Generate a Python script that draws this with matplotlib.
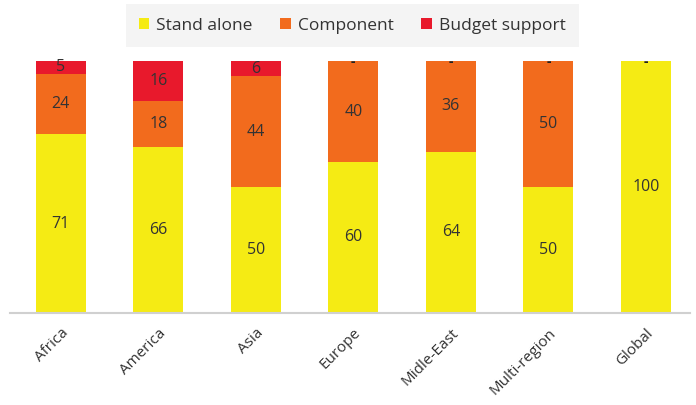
import numpy as np
import matplotlib.pyplot as plt

plt.rcParams['font.family'] = ['Open Sans', 'DejaVu Sans']

regions = ['Africa', 'America', 'Asia', 'Europe', 'Midle-East', 'Multi-region', 'Global']
stand_alone = [71, 66, 50, 60, 64, 50, 100]
component = [24, 18, 44, 40, 36, 50, 0]
budget = [5, 16, 6, 0, 0, 0, 0]

series = [('Stand alone', stand_alone, '#F5EB14'),
          ('Component', component, '#F26B1D'),
          ('Budget support', budget, '#E8192C')]

fig = plt.figure(figsize=(6.96, 4.05), dpi=100)
ax = fig.add_axes([0.014, 0.227, 0.977, 0.622])

x = np.arange(len(regions))
bottom = np.zeros(len(regions))
for name, vals, col in series:
    vals = np.array(vals, dtype=float)
    ax.bar(x, vals, 0.51, bottom=bottom, color=col, label=name)
    for xi, b, v in zip(x, bottom, vals):
        if v > 0:
            ax.text(xi, b + v / 2, str(int(v)), ha='center', va='center',
                    fontsize=11.5, color='#333333')
    bottom += vals

# zero-valued budget labels sit at the top edge
for xi, v, top in zip(x, budget, bottom):
    if v == 0:
        ax.text(xi, top - 0.2, '-', ha='center', va='center', fontsize=10,
                fontweight='bold', color='#222222')

ax.set_xlim(-0.523, 6.45)
ax.set_ylim(0, 100)
ax.set_yticks([])
ax.set_xticks(x)
ax.set_xticklabels(regions, rotation=45, ha='right', rotation_mode='anchor',
                   fontsize=11, color='#333333')
ax.tick_params(axis='x', length=0, pad=9)
for s in ['top', 'right', 'left']:
    ax.spines[s].set_visible(False)
ax.spines['bottom'].set_color('#D0D0D0')
ax.spines['bottom'].set_linewidth(1.5)

leg = fig.legend(loc='center', bbox_to_anchor=(0.506, 0.937), ncol=3,
                 frameon=True, fontsize=12.5, handlelength=0.6, handleheight=0.6,
                 handletextpad=0.4, columnspacing=1.6, borderpad=0.75)
leg.get_frame().set_facecolor('#F2F2F2')
leg.get_frame().set_edgecolor('none')
leg.get_frame().set_boxstyle('square', pad=0)
for t in leg.get_texts():
    t.set_color('#333333')

fig.savefig('out.png', dpi=100)
